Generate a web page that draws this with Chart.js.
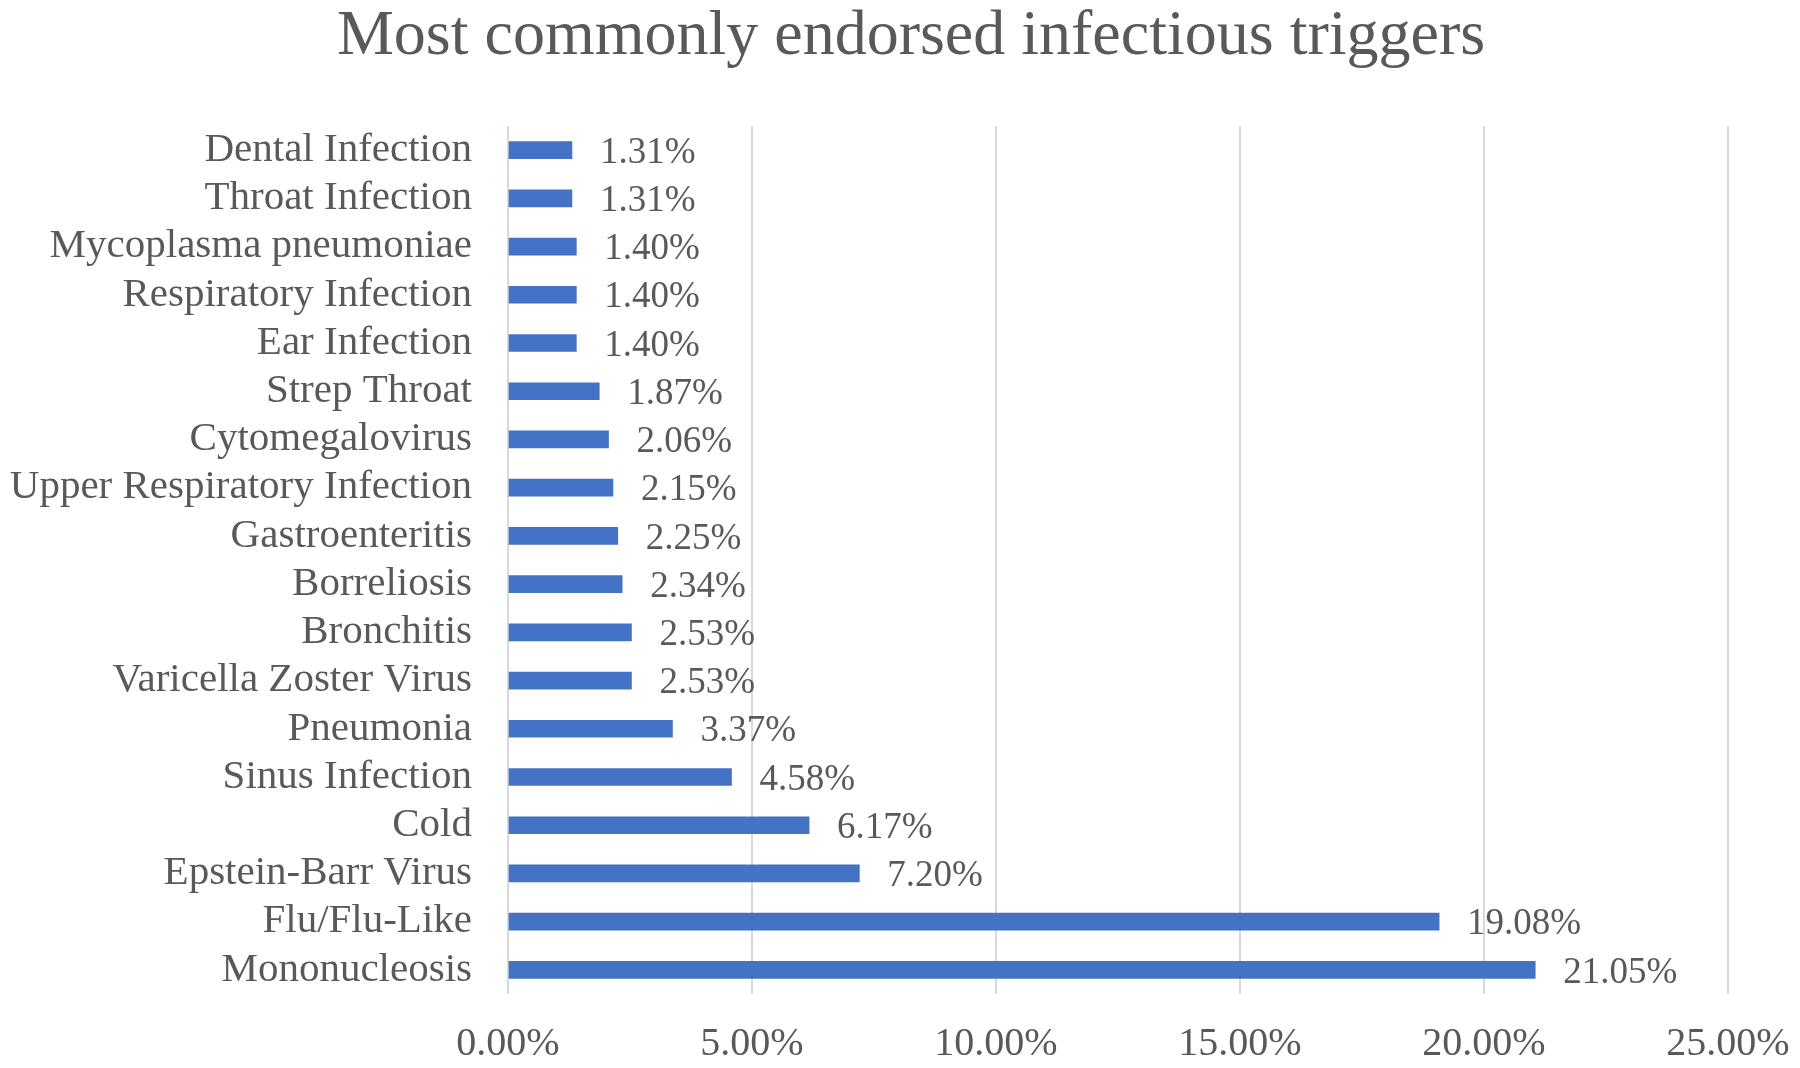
<!DOCTYPE html>
<html>
<head>
<meta charset="utf-8">
<script src="https://cdn.jsdelivr.net/npm/chart.js@4.4.1/dist/chart.umd.min.js"></script>
<style>
  html, body { margin: 0; padding: 0; background: #ffffff; }
  #wrap { width: 1800px; height: 1068px; }
</style>
</head>
<body>
<div id="wrap"><canvas id="c" width="1800" height="1068"></canvas></div>
<script>
const titleText = "Most commonly endorsed infectious triggers";
const categories = [
  "Dental Infection",
  "Throat Infection",
  "Mycoplasma pneumoniae",
  "Respiratory Infection",
  "Ear Infection",
  "Strep Throat",
  "Cytomegalovirus",
  "Upper Respiratory Infection",
  "Gastroenteritis",
  "Borreliosis",
  "Bronchitis",
  "Varicella Zoster Virus",
  "Pneumonia",
  "Sinus Infection",
  "Cold",
  "Epstein-Barr Virus",
  "Flu/Flu-Like",
  "Mononucleosis"
];
const percentages = [1.31, 1.31, 1.40, 1.40, 1.40, 1.87, 2.06, 2.15, 2.25, 2.34, 2.53, 2.53, 3.37, 4.58, 6.17, 7.20, 19.08, 21.05];
const xTickValues = [0, 5, 10, 15, 20, 25];

const FONT = "'Liberation Serif', 'Times New Roman', serif";
const TEXT = "#595959";

const dataLabels = {
  id: 'dataLabels',
  afterDatasetsDraw(chart) {
    const ctx = chart.ctx;
    const meta = chart.getDatasetMeta(0);
    ctx.save();
    ctx.font = "37px " + FONT;
    ctx.fillStyle = TEXT;
    ctx.textAlign = 'left';
    ctx.textBaseline = 'middle';
    meta.data.forEach((el, i) => {
      ctx.fillText(percentages[i].toFixed(2) + '%', el.x + 28, el.y + 3);
    });
    ctx.restore();
  }
};

const titleShift = {
  id: 'titleShift',
  afterLayout(chart) {
    if (chart.titleBlock) chart.titleBlock.left = 22;
  }
};

new Chart(document.getElementById('c'), {
  type: 'bar',
  data: {
    labels: categories,
    datasets: [{
      data: percentages,
      backgroundColor: '#4472C4',
      borderWidth: 0,
      barThickness: 17
    }]
  },
  options: {
    indexAxis: 'y',
    responsive: false,
    animation: false,
    layout: { padding: { left: 0, right: 0, top: 0, bottom: 0 } },
    plugins: {
      legend: { display: false },
      tooltip: { enabled: false },
      title: {
        display: true,
        text: titleText,
        color: TEXT,
        font: { family: FONT, size: 64, weight: 'normal', lineHeight: 1.0 },
        padding: { top: 5, bottom: 57 }
      }
    },
    scales: {
      x: {
        min: 0,
        max: 25,
        afterBuildTicks(scale) { scale.ticks = xTickValues.map(v => ({ value: v })); },
        afterFit(scale) { scale.height = 74; scale.paddingLeft = 0; scale.paddingRight = 72; },
        grid: { color: '#d9d9d9', lineWidth: 2, drawTicks: false },
        border: { display: false },
        ticks: {
          padding: 26,
          color: TEXT,
          font: { family: FONT, size: 40 },
          callback: v => Number(v).toFixed(2) + '%'
        }
      },
      y: {
        afterFit(scale) { scale.width = 508; },
        grid: { display: false, drawTicks: false },
        border: { display: false },
        ticks: {
          padding: 36,
          color: TEXT,
          font: { family: FONT, size: 41 },
          autoSkip: false
        }
      }
    }
  },
  plugins: [dataLabels, titleShift]
});
</script>
</body>
</html>
